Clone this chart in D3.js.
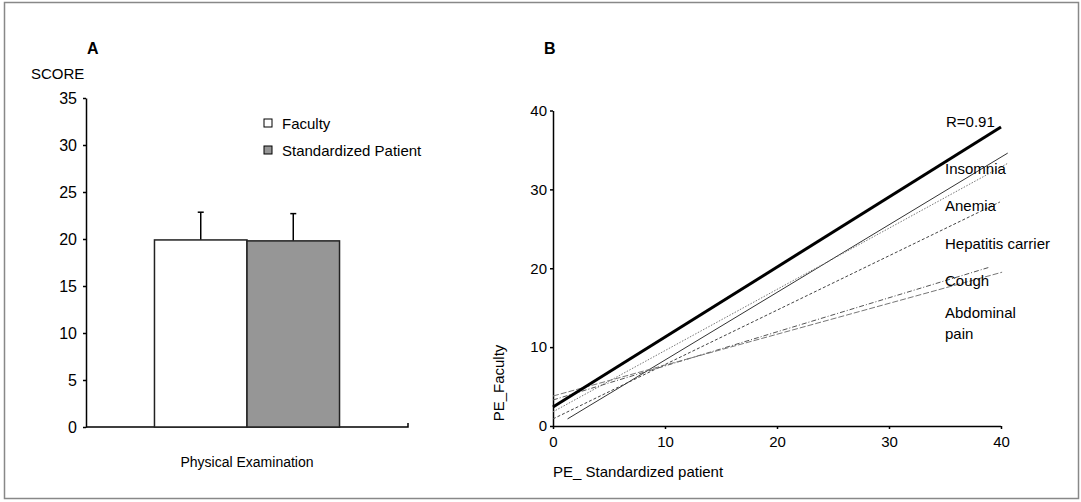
<!DOCTYPE html>
<html>
<head>
<meta charset="utf-8">
<script src="https://cdn.jsdelivr.net/npm/d3@7"></script>
<style>
  body { margin: 0; background: #fff; }
  text { font-family: "Liberation Sans", Arial, sans-serif; fill: #000; }
  .tick text { font-size: 15px; }
  .domain, .tick line { stroke: #000; stroke-width: 1.5; }
</style>
</head>
<body>
<div id="chart"></div>
<script>

//data, panel A
var categories = ["Physical Examination"];
var groups = ["Faculty", "Standardized Patient"];
var means = [19.9, 19.8];
var sds = [2.95, 2.9];
var groupColors = ["#ffffff", "#969696"];
var scoreTicks = [0, 5, 10, 15, 20, 25, 30, 35];

//data, panel B (fitted lines, start and end points)
var caseNames = ["Insomnia", "Anemia", "Hepatitis carrier", "Cough", "Abdominal pain"];
var caseX0 = [1.3, 0, 0, 0, 0];
var caseY0 = [0.9, 1.8, 0.9, 3.3, 3.8];
var caseX1 = [40.6, 40.6, 39.9, 38.9, 40.1];
var caseY1 = [34.6, 33.3, 28.4, 20.1, 19.5];
var caseDash = ["none", "1.5,1.5", "3,2", "5,2,1,2", "6,2"];
var caseColor = ["#333", "#777", "#444", "#555", "#777"];
var fitX = [0, 40];
var fitY = [2.4, 37.9];
var bTicks = [0, 10, 20, 30, 40];

var W = 1081, H = 502;

var svg = d3.select("#chart")
  .append("svg")
  .attr("width", W)
  .attr("height", H);

//frame
svg.append("rect")
  .attr("x", 4.5).attr("y", 2.5)
  .attr("width", 1074).attr("height", 496)
  .attr("fill", "none")
  .attr("stroke", "#888")
  .attr("stroke-width", 1.5);

// ---------- panel A ----------
var xA = d3.scaleBand()
  .domain(categories)
  .range([86, 408])
  .paddingOuter(0.37)
  .paddingInner(0);

var xInner = d3.scaleBand()
  .domain(groups)
  .range([0, xA.bandwidth()]);

var yA = d3.scaleLinear()
  .domain([0, 35])
  .range([427, 98]);

//y axis
svg.append("g")
  .attr("transform", "translate(86,0)")
  .call(d3.axisLeft(yA)
    .tickValues(scoreTicks)
    .tickSizeInner(3)
    .tickSizeOuter(0)
    .tickPadding(6))
  .selectAll(".tick text")
  .style("font-size", "16px");

//x axis line with little end tick
svg.append("path")
  .attr("d", "M86,427H408V423")
  .attr("fill", "none")
  .attr("stroke", "#000")
  .attr("stroke-width", 1.5);

//bars
var bars = svg.append("g");
groups.forEach(function(g, i) {
  var x = xA(categories[0]) + xInner(g);
  var cx = x + xInner.bandwidth() / 2;

  bars.append("line")
    .attr("x1", cx).attr("x2", cx)
    .attr("y1", yA(means[i])).attr("y2", yA(means[i] + sds[i]))
    .attr("stroke", "#000").attr("stroke-width", 1.5);
  bars.append("line")
    .attr("x1", cx - 3).attr("x2", cx + 3)
    .attr("y1", yA(means[i] + sds[i])).attr("y2", yA(means[i] + sds[i]))
    .attr("stroke", "#000").attr("stroke-width", 1.5);

  bars.append("rect")
    .attr("x", x)
    .attr("y", yA(means[i]))
    .attr("width", xInner.bandwidth())
    .attr("height", yA(0) - yA(means[i]))
    .attr("fill", groupColors[i])
    .attr("stroke", "#222")
    .attr("stroke-width", 1.5);
});

//category label
svg.append("text")
  .attr("x", xA(categories[0]) + xA.bandwidth() / 2)
  .attr("y", 467)
  .attr("text-anchor", "middle")
  .style("font-size", "14px")
  .text(categories[0]);

//legend
groups.forEach(function(g, i) {
  svg.append("rect")
    .attr("x", 264).attr("y", 119 + i * 27)
    .attr("width", 8).attr("height", 8)
    .attr("fill", groupColors[i])
    .attr("stroke", "#000")
    .attr("stroke-width", 1);
  svg.append("text")
    .attr("x", 282).attr("y", 129 + i * 27)
    .style("font-size", "15px")
    .text(g);
});

//panel A titles
svg.append("text")
  .attr("x", 87).attr("y", 54)
  .style("font-size", "16px")
  .style("font-weight", "bold")
  .text("A");

svg.append("text")
  .attr("x", 31).attr("y", 79)
  .style("font-size", "15px")
  .text("SCORE");

// ---------- panel B ----------
var xB = d3.scaleLinear().domain([0, 40]).range([553, 1001]);
var yB = d3.scaleLinear().domain([0, 40]).range([426, 110.5]);

svg.append("g")
  .attr("transform", "translate(553,0)")
  .call(d3.axisLeft(yB)
    .tickValues(bTicks)
    .tickSizeInner(3)
    .tickSizeOuter(0)
    .tickPadding(3));

var xAxisB = svg.append("g")
  .attr("transform", "translate(0,426)")
  .call(d3.axisBottom(xB)
    .tickValues(bTicks)
    .tickSizeInner(3)
    .tickSizeOuter(0)
    .tickPadding(7));
xAxisB.select(".domain").attr("d", "M553,0.5H1001");

//case lines
caseNames.forEach(function(n, i) {
  svg.append("line")
    .attr("x1", xB(caseX0[i])).attr("y1", yB(caseY0[i]))
    .attr("x2", xB(caseX1[i])).attr("y2", yB(caseY1[i]))
    .attr("stroke", caseColor[i])
    .attr("stroke-width", 1)
    .attr("stroke-dasharray", caseDash[i]);
});

//overall fit
svg.append("line")
  .attr("x1", xB(fitX[0])).attr("y1", yB(fitY[0]))
  .attr("x2", xB(fitX[1])).attr("y2", yB(fitY[1]))
  .attr("stroke", "#000")
  .attr("stroke-width", 3);

//line labels
var labelY = [174, 211, 249, 286, 318];
caseNames.forEach(function(n, i) {
  if (n == "Abdominal pain") {
    svg.append("text").attr("x", 945).attr("y", labelY[i])
      .style("font-size", "15px").text("Abdominal");
    svg.append("text").attr("x", 945).attr("y", labelY[i] + 21)
      .style("font-size", "15px").text("pain");
  } else {
    svg.append("text").attr("x", 945).attr("y", labelY[i])
      .style("font-size", "15px").text(n);
  }
});

svg.append("text")
  .attr("x", 946).attr("y", 127)
  .style("font-size", "15px")
  .text("R=0.91");

//panel B titles
svg.append("text")
  .attr("x", 544).attr("y", 54)
  .style("font-size", "16px")
  .style("font-weight", "bold")
  .text("B");

svg.append("text")
  .attr("transform", "translate(504,383) rotate(-90)")
  .attr("text-anchor", "middle")
  .style("font-size", "15px")
  .text("PE_Faculty");

svg.append("text")
  .attr("x", 553).attr("y", 477)
  .style("font-size", "15px")
  .text("PE_ Standardized patient");

</script>
</body>
</html>
